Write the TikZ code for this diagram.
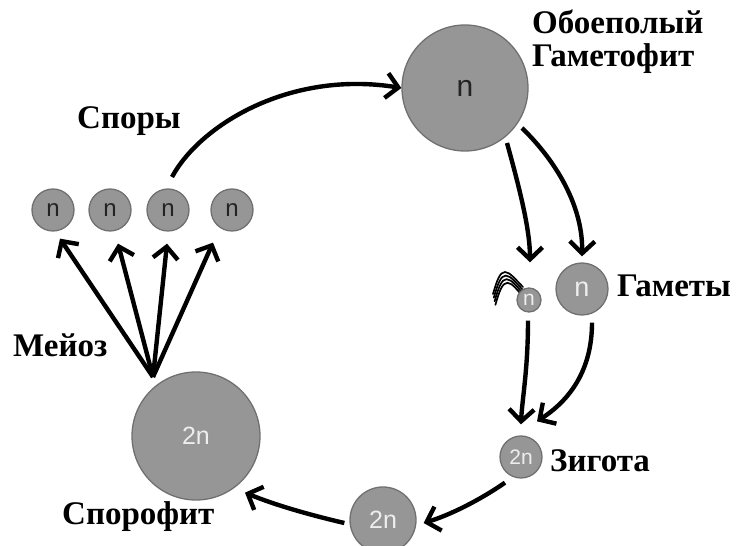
\documentclass[tikz,border=0pt]{standalone}
\usepackage{fontspec}
\setmainfont{Liberation Serif}
\newfontfamily\circfont{Liberation Sans}
\usetikzlibrary{arrows.meta}
\definecolor{cellfill}{RGB}{150,150,150}
\definecolor{celledge}{RGB}{112,112,112}
\definecolor{darktxt}{RGB}{35,35,35}
\definecolor{lighttxt}{RGB}{238,238,238}
\begin{document}
\begin{tikzpicture}[x=1pt,y=1pt,
  cell/.style={circle,fill=cellfill,draw=celledge,line width=1.3pt,inner sep=0pt},
  darkn/.style={text=darktxt},
  lightn/.style={text=lighttxt},
  lbl/.style={anchor=base west,inner sep=0pt,font=\bfseries\fontsize{33}{33}\selectfont},
  arr/.style={line width=4.4pt,-{Straight Barb[length=12pt,width=25pt]}},
  flag/.style={line width=1.7pt,black,line cap=round},
]
\useasboundingbox (0,0) rectangle (739,546);
% cells
\node[cell,darkn,minimum size=126pt,font=\circfont\fontsize{30}{30}\selectfont] (g) at (465,458) {n};
\node[cell,darkn,minimum size=42pt,font=\circfont\fontsize{24}{24}\selectfont] (s1) at (53,336) {n};
\node[cell,darkn,minimum size=42pt,font=\circfont\fontsize{24}{24}\selectfont] (s2) at (110,336) {n};
\node[cell,darkn,minimum size=42pt,font=\circfont\fontsize{24}{24}\selectfont] (s3) at (168,336) {n};
\node[cell,darkn,minimum size=42pt,font=\circfont\fontsize{24}{24}\selectfont] (s4) at (232,336) {n};
\node[cell,lightn,minimum size=128pt,font=\circfont\fontsize{25}{25}\selectfont] (sp) at (196,110) {2n};
\node[cell,lightn,minimum size=66pt,font=\circfont\fontsize{25}{25}\selectfont] (c2) at (383,26) {2n};
\node[cell,lightn,minimum size=42pt,font=\circfont\fontsize{21}{21}\selectfont] (z) at (521,89) {2n};
\node[cell,lightn,minimum size=52pt,font=\circfont\fontsize{27}{27}\selectfont] (fg) at (582,257) {n};
% sperm flagella
\foreach \i in {0,1,2,3}{
  \draw[flag] (493+0.8*\i,252-3.6*\i) .. controls (497+0.8*\i,266-3.6*\i) and (500+0.8*\i,274-3.6*\i) .. (505+0.8*\i,274-3.6*\i)
     .. controls (510+0.8*\i,274-3.6*\i) and (516+0.5*\i,266-3.6*\i) .. (523+0.5*\i,259-3.6*\i);
}
\node[cell,lightn,minimum size=24pt,font=\circfont\fontsize{21}{21}\selectfont] (sm) at (529,246) {n};
% labels
\node[lbl] (l1) at (532,512) {Обоеполый};
\node[lbl] (l2) at (532,479) {Гаметофит};
\node[lbl] (l3) at (77,417) {Споры};
\node[lbl] (l4) at (13,189) {Мейоз};
\node[lbl] (l5) at (617,249) {Гаметы};
\node[lbl] (l6) at (550,74) {Зигота};
\node[lbl] (l7) at (62,21) {Спорофит};
% connector points
\coordinate (m) at (153,169);
\coordinate (a1s) at (172,369);
\coordinate (g1) at (507,403);
\coordinate (g2) at (522,418);
% arrows
\draw[arr] (a1s) .. controls (200,421) and (290,476) .. (g.west);
\draw[arr] (m) -- ([xshift=7pt,yshift=-7pt]s1.south);
\draw[arr] (m) -- ([xshift=8pt,yshift=-12pt]s2.south);
\draw[arr] (m) -- ([xshift=-1pt,yshift=-12pt]s3.south);
\draw[arr] (m) -- ([xshift=-19pt,yshift=-11pt]s4.south);
\draw[arr] (g1) .. controls (520,356) and (530,316) .. ([xshift=1pt,yshift=25pt]sm.north);
\draw[arr] (g2) .. controls (560,381) and (583,336) .. ([yshift=6pt]fg.north);
\draw[arr] ([xshift=-1pt,yshift=-8pt]sm.south) .. controls (528,176) and (522,146) .. ([yshift=11pt]z.north);
\draw[arr] ([xshift=10pt,yshift=-7pt]fg.south) .. controls (592,176) and (570,146) .. ([xshift=16pt,yshift=14pt]z.north);
\draw[arr] ([xshift=-16pt,yshift=-4pt]z.south) .. controls (480,46) and (450,31) .. ([xshift=7pt,yshift=-3pt]c2.east);
\draw[arr] ([xshift=-5pt,yshift=-3pt]c2.west) .. controls (310,31) and (275,41) .. ([xshift=49pt,yshift=8pt]sp.south);
\end{tikzpicture}
\end{document}
